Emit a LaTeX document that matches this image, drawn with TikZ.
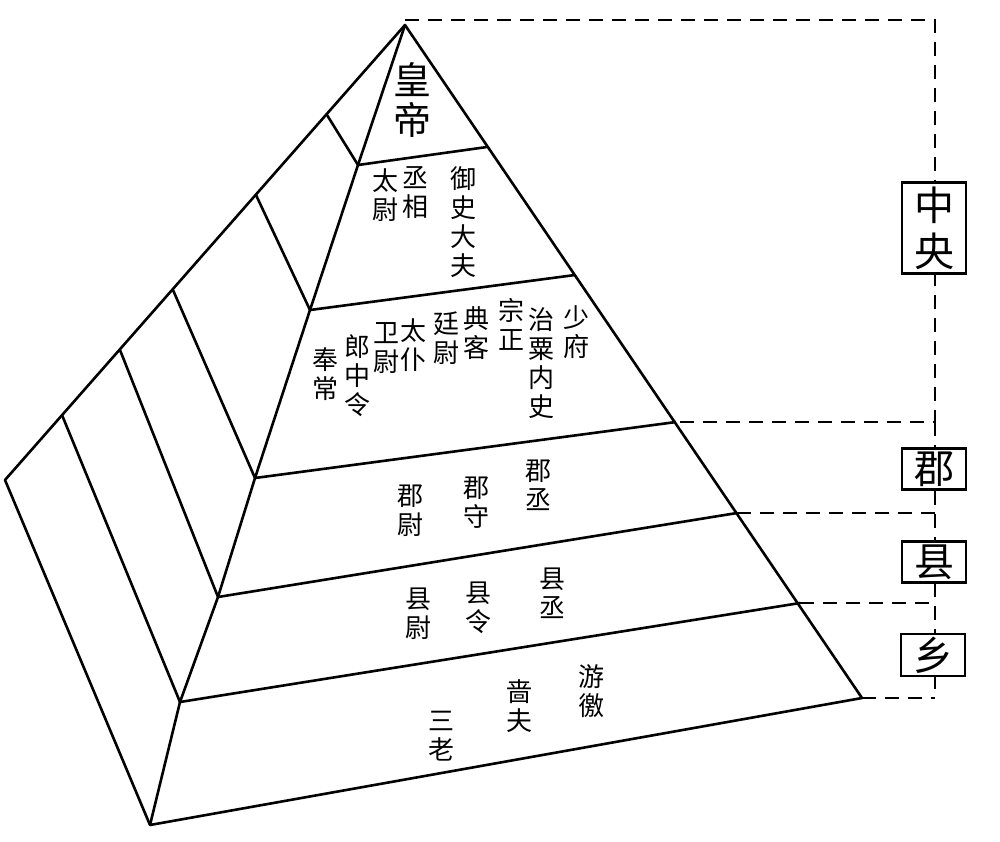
\documentclass[tikz,border=0pt]{standalone}
\usepackage{fontspec}
\newfontfamily\cjk{Noto Sans CJK SC}
\tikzset{
  edge/.style={line width=2.6pt, line join=round},
  bracket/.style={line width=2.4pt, dash pattern=on 14pt off 9pt},
  col/.style={anchor=north, align=center, inner sep=0pt, font=\cjk\fontsize{26}{29}\selectfont},
  tag/.style={draw, line width=2.4pt, fill=white, inner sep=3pt, minimum width=64pt, font=\cjk\fontsize{40}{44}\selectfont}
}
\begin{document}
\begin{tikzpicture}[x=1pt,y=-1pt]
  \useasboundingbox (0,0) rectangle (1000,841);
  % Corners
  \coordinate (apex) at (405,25);
  \coordinate (lb) at (5,480);
  \coordinate (fb) at (150,825);
  \coordinate (rb) at (862,698);
  % Front-left edge points
  \coordinate (f1) at (358,165);
  \coordinate (f2) at (310,310);
  \coordinate (f3) at (255,478);
  \coordinate (f4) at (218,597);
  \coordinate (f5) at (180,702);
  % Right edge points
  \coordinate (r1) at (487,147);
  \coordinate (r2) at (575,275);
  \coordinate (r3) at (676,422);
  \coordinate (r4) at (737,513);
  \coordinate (r5) at (800,603);
  % Back edge points
  \coordinate (b1) at (327,115);
  \coordinate (b2) at (256,195);
  \coordinate (b3) at (173,290);
  \coordinate (b4) at (120,350);
  \coordinate (b5) at (62,415);

  % Outline
  \draw[edge] (apex) -- (lb) -- (fb) -- (rb) -- cycle;
  \draw[edge] (apex) -- (f1) -- (f2) -- (f3) -- (f4) -- (f5) -- (fb);
  % Tiers
  \foreach \i in {1,...,5} {
    \draw[edge] (b\i) -- (f\i) -- (r\i);
  }

  % Offices
  \node[col, font=\cjk\fontsize{38}{40}\selectfont] (huangdi) at (412,62) {皇\\帝};
  \node[col] (taiwei) at (385,168) {太\\尉};
  \node[col] (chengxiang) at (415,166) {丞\\相};
  \node[col] (yushi) at (463,166) {御\\史\\大\\夫};
  \node[col] (fengchang) at (325,347) {奉\\常};
  \node[col] (langzhong) at (357,334) {郎\\中\\令};
  \node[col] (weiwei) at (386,322) {卫\\尉};
  \node[col] (taipu) at (413,318) {太\\仆};
  \node[col] (tingwei) at (446,312) {廷\\尉};
  \node[col] (dianke) at (476,306) {典\\客};
  \node[col] (zongzheng) at (511,298) {宗\\正};
  \node[col] (zhisu) at (541,307) {治\\粟\\内\\史};
  \node[col] (shaofu) at (576,305) {少\\府};
  \node[col] (junwei) at (410,485) {郡\\尉};
  \node[col] (junshou) at (476,477) {郡\\守};
  \node[col] (juncheng) at (538,460) {郡\\丞};
  \node[col] (xianwei) at (418,588) {县\\尉};
  \node[col] (xianling) at (478,582) {县\\令};
  \node[col] (xiancheng) at (552,568) {县\\丞};
  \node[col] (sanlao) at (441,711) {三\\老};
  \node[col] (sefu) at (519,679) {啬\\夫};
  \node[col] (youjiao) at (591,664) {游\\徼};

  % Levels
  \coordinate (t0) at (935,20);
  \coordinate (t1) at (935,422);
  \coordinate (t2) at (935,513);
  \coordinate (t3) at (935,603);
  \coordinate (t4) at (935,698);
  \draw[bracket] (apex |- t0) -- (t0) -- (t1) -- (r3);
  \draw[bracket] (r4) -- (t2);
  \draw[bracket] (r5) -- (t3);
  \draw[bracket] (rb) -- (t4);
  \draw[bracket] (t1) -- (t4);
  \node[tag, align=center, font=\cjk\fontsize{40}{46}\selectfont, inner sep=4pt] (zhongyang) at (934,228) {中\\央};
  \node[tag] (jun) at (934,469) {郡};
  \node[tag] (xian) at (934,562) {县};
  \node[tag] (xiang) at (933,655) {乡};
\end{tikzpicture}
\end{document}
